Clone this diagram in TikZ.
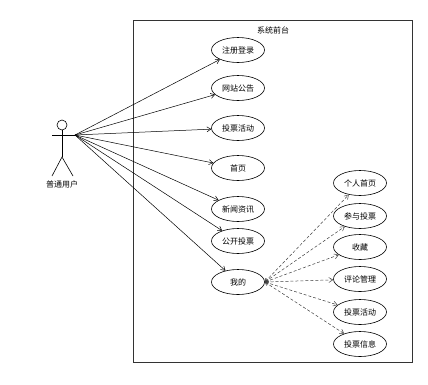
\documentclass[tikz,border=0pt]{standalone}
\usepackage{fontspec}
\setmainfont{Noto Sans CJK SC}
\usetikzlibrary{arrows.meta,shapes.geometric}
\begin{document}
\begin{tikzpicture}[x=1pt,y=-1pt,every node/.style={font=\fontsize{8}{9}\selectfont},
  usecase/.style={draw,ellipse,line width=.6pt,minimum width=53pt,minimum height=25pt,inner sep=0pt},
  assoc/.style={line width=.5pt,-{Straight Barb[length=4pt,width=5pt]}},
  extend/.style={line width=.5pt,draw=black!75,dash pattern=on 3pt off 2pt,{Straight Barb[length=3pt,width=4pt]}-{Straight Barb[length=4pt,width=5pt]}}]
\useasboundingbox (0,0) rectangle (428,384);
% system boundary
\draw[line width=.7pt,draw=black!80] (133,20) rectangle (412,362);
\node (title) at (273,30) {系统前台};
% actor
\draw[line width=.6pt] (62,125) circle (5);
\draw[line width=.6pt] (62,130)--(62,157);
\draw[line width=.6pt] (52,135)--(75,135);
\draw[line width=.6pt] (52,176)--(62,157)--(73,176);
\coordinate (hand) at (75,135);
\node (user) at (62,184) {普通用户};
% use cases
\node[usecase] (u1) at (238,50) {注册登录};
\node[usecase] (u2) at (238,88) {网站公告};
\node[usecase] (u3) at (238,128) {投票活动};
\node[usecase] (u4) at (238,168) {首页};
\node[usecase] (u5) at (238,209) {新闻资讯};
\node[usecase] (u6) at (238,241) {公开投票};
\node[usecase] (u7) at (238,282) {我的};
\foreach \i in {1,...,7} \draw[assoc] (hand)--(u\i);
\node[usecase] (m1) at (360,183) {个人首页};
\node[usecase] (m2) at (360,216) {参与投票};
\node[usecase] (m3) at (360,247) {收藏};
\node[usecase] (m4) at (360,279) {评论管理};
\node[usecase] (m5) at (360,312) {投票活动};
\node[usecase] (m6) at (360,344) {投票信息};
\foreach \i in {1,...,6} \draw[extend] (u7.east)--(m\i);
\end{tikzpicture}
\end{document}
